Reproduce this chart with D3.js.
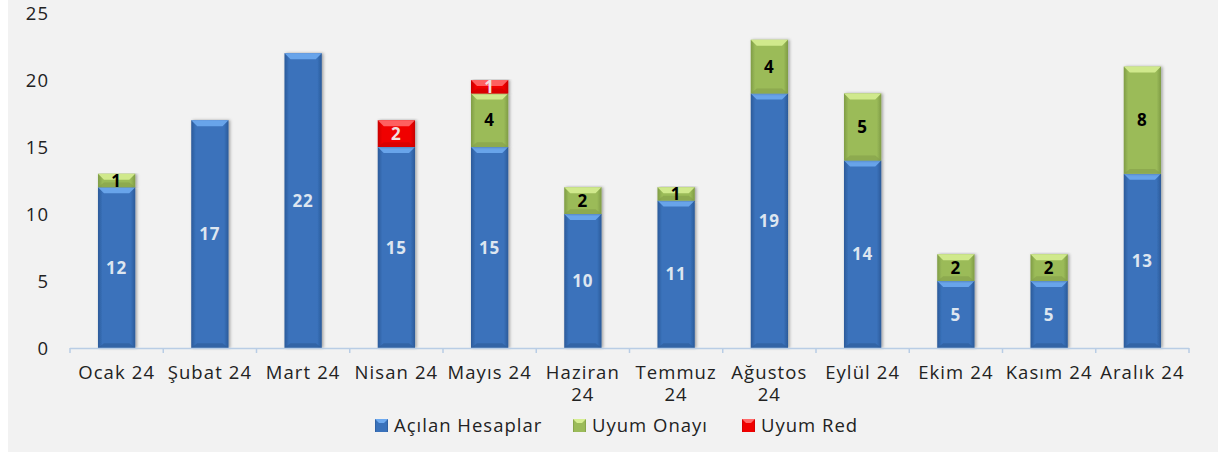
<!DOCTYPE html>
<html><head><meta charset="utf-8">
<script src="https://cdn.jsdelivr.net/npm/d3@7"></script>
<style>
html,body{margin:0;padding:0;background:#fff;}
svg{display:block;}
text{font-family:"Open Sans",sans-serif;}
</style></head>
<body>
<svg id="chart" width="1226" height="453"></svg>
<script>
const categories = ["Ocak 24","Şubat 24","Mart 24","Nisan 24","Mayıs 24","Haziran 24","Temmuz 24","Ağustos 24","Eylül 24","Ekim 24","Kasım 24","Aralık 24"];
const acilanHesaplar = [12,17,22,15,15,10,11,19,14,5,5,13];
const uyumOnayi      = [1,0,0,0,4,2,1,4,5,2,2,8];
const uyumRed        = [0,0,0,2,1,0,0,0,0,0,0,0];
const seriesNames = ["Açılan Hesaplar","Uyum Onayı","Uyum Red"];
const yTicks = [0,5,10,15,20,25];

const svg = d3.select("#chart");
svg.append("rect").attr("x",8).attr("y",0).attr("width",1210).attr("height",452).attr("fill","#f2f2f2");

const x = d3.scaleBand().domain(categories).range([70,1189]).paddingInner(0.6).paddingOuter(0.3);
const y = d3.scaleLinear().domain([0,25]).range([348,13]);

const styles = [
  {name:seriesNames[0], base:"#3a72bb", edge:"#2b5a99", top:"#6eaaf0", bot:"#2d5c98", label:"#dde6f0"},
  {name:seriesNames[1], base:"#9bbb59", edge:"#7f9c45", top:"#d6ee92", bot:"#849f4a", label:"#000"},
  {name:seriesNames[2], base:"#f00000", edge:"#c80000", top:"#ff6a6a", bot:"#cc0000", label:"#f0e0e0"}
];

const defs = svg.append("defs");
styles.forEach((s,i)=>{
  const g = defs.append("linearGradient").attr("id","g"+i).attr("x1","0").attr("x2","1").attr("y1","0").attr("y2","0");
  g.append("stop").attr("offset","0").attr("stop-color",s.edge);
  g.append("stop").attr("offset","0.12").attr("stop-color",s.base);
  g.append("stop").attr("offset","0.88").attr("stop-color",s.base);
  g.append("stop").attr("offset","1").attr("stop-color",s.edge);
});
const sh = defs.append("filter").attr("id","sh").attr("x","-20%").attr("y","-5%").attr("width","140%").attr("height","110%");
sh.append("feDropShadow").attr("dx",1.5).attr("dy",0).attr("stdDeviation",1.5).attr("flood-color","#000").attr("flood-opacity",0.35);

const data = categories.map((c,i)=>({c, v:[acilanHesaplar[i],uyumOnayi[i],uyumRed[i]]}));
const stack = d3.stack().keys([0,1,2]).value((d,k)=>d.v[k]);
const series = stack(data);

const bw = x.bandwidth();
const bev = 6;
const gBars = svg.append("g");
series.forEach((ser,si)=>{
  const s = styles[si];
  ser.forEach((d,i)=>{
    const val = d[1]-d[0];
    if(val<=0) return;
    const x0 = x(categories[i]), x1 = x0+bw;
    const yt = y(d[1]), yb = y(d[0]);
    const g = gBars.append("g");
    g.append("rect").attr("x",x0).attr("y",yt).attr("width",bw).attr("height",yb-yt).attr("fill",`url(#g${si})`).attr("filter","url(#sh)");
    g.append("polygon").attr("points",[[x0,yt],[x1,yt],[x1-bev,yt+bev],[x0+bev,yt+bev]].map(p=>p.join(",")).join(" ")).attr("fill",s.top).attr("opacity",0.9);
    g.append("polygon").attr("points",[[x0,yb],[x1,yb],[x1-bev,yb-bev*0.8],[x0+bev,yb-bev*0.8]].map(p=>p.join(",")).join(" ")).attr("fill",s.bot).attr("opacity",0.6);
    g.append("text").attr("x",x0+bw/2).attr("y",(yt+yb)/2).attr("dy","0.36em").attr("text-anchor","middle")
      .attr("font-size",17).attr("font-weight","bold").attr("letter-spacing","1px").attr("fill",s.label).text(val);
  });
});

// x axis
const ax = svg.append("g");
const r = x.range();
ax.append("line").attr("x1",r[0]).attr("x2",r[1]).attr("y1",348.5).attr("y2",348.5).attr("stroke","#b9cde5").attr("stroke-width",1.5);
d3.range(categories.length+1).forEach(i=>{
  const xx = r[0]+i*x.step();
  ax.append("line").attr("x1",xx).attr("x2",xx).attr("y1",348).attr("y2",353).attr("stroke","#b9cde5").attr("stroke-width",1.5);
});
const wrapMap = {"Haziran 24":["Haziran","24"],"Temmuz 24":["Temmuz","24"],"Ağustos 24":["Ağustos","24"]};
categories.forEach(c=>{
  const lines = wrapMap[c] || [c];
  lines.forEach((l,j)=>{
    ax.append("text").attr("x",x(c)+bw/2).attr("y",379+j*22).attr("text-anchor","middle")
      .attr("font-size",18.5).attr("letter-spacing","1.1px").attr("fill","#222").text(l);
  });
});

// y labels
yTicks.forEach(v=>{
  svg.append("text").attr("x",49).attr("y",y(v)).attr("dy","0.36em").attr("text-anchor","end")
    .attr("font-size",18.5).attr("letter-spacing","1px").attr("fill","#222").text(v);
});

// legend
const legX = [375,573,742];
styles.forEach((s,i)=>{
  const g = svg.append("g").attr("transform",`translate(${legX[i]},419)`);
  g.append("rect").attr("width",13).attr("height",13).attr("fill",`url(#g${i})`);
  g.append("polygon").attr("points","0,0 13,0 9,4 4,4").attr("fill",s.top);
  g.append("text").attr("x",19).attr("y",6.5).attr("dy","0.36em").attr("font-size",18.5).attr("letter-spacing","1px").attr("fill","#222").text(s.name);
});
</script>
</body></html>
